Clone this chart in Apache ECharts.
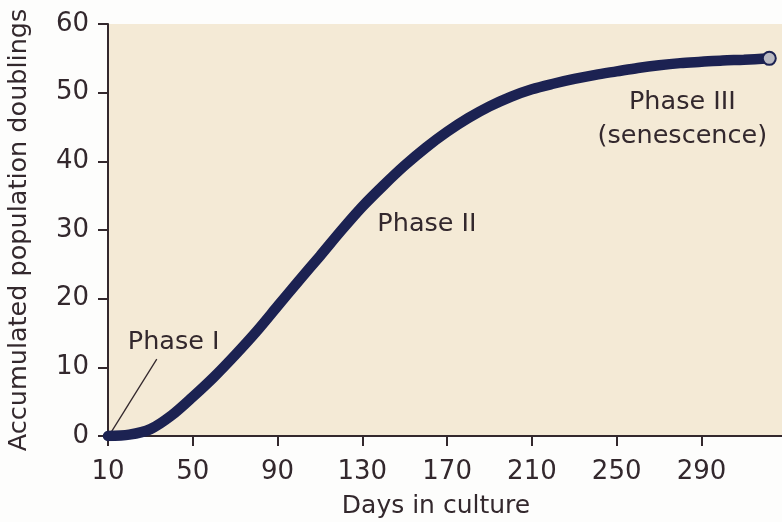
<!DOCTYPE html>
<html>
<head>
<meta charset="utf-8">
<script src="https://cdn.jsdelivr.net/npm/echarts@6/dist/echarts.min.js"></script>
<style>
  html, body { margin: 0; padding: 0; background: #fdfdfc; }
  #chart { width: 782px; height: 522px; }
</style>
</head>
<body>
<div id="chart"></div>
<script>
// growth curve
const days = [10, 20, 30, 40, 50, 60, 70, 80, 90, 100, 110, 120, 130, 140, 150, 160,
  170, 180, 190, 200, 210, 220, 230, 240, 250, 260, 270, 280, 290, 300, 310, 322]
const doublings = [0, 0.2, 1.0, 3.0, 5.7, 8.6, 11.8, 15.2, 18.9, 22.6, 26.2, 29.9, 33.4, 36.5, 39.4, 42.0,
  44.3, 46.3, 48.0, 49.4, 50.5, 51.3, 52.0, 52.6, 53.1, 53.6, 54.0, 54.3, 54.5, 54.7, 54.8, 55.0]
const xTicks = [10, 50, 90, 130, 170, 210, 250, 290]
const yTicks = [0, 10, 20, 30, 40, 50, 60]

// phase labels: [day, value, text]
const phaseLabels = [
  [41, 13.6, 'Phase I'],
  [160.5, 30.8, 'Phase II'],
  [281, 46.1, 'Phase III\n(senescence)']
]
const leader = [[11, 0.3], [33, 11.2]]

const ink = '#33282d'
const curveColor = '#1c2252'
const font = 'DejaVu Sans'

const chart = echarts.init(document.getElementById('chart'))

const curveData = days.map((d, i) => {
  if (i === days.length - 1) {
    return {
      value: [d, doublings[i]],
      symbol: 'circle',
      symbolSize: 13,
      itemStyle: { color: '#b9b9c2', borderColor: curveColor, borderWidth: 2 }
    }
  }
  return { value: [d, doublings[i]], symbol: 'none' }
})

chart.setOption({
  animation: false,
  textStyle: { fontFamily: font },
  grid: {
    left: 108,
    right: 0,
    top: 24,
    bottom: 86,
    outerBoundsMode: 'none',
    containLabel: false,
    show: true,
    backgroundColor: '#f4ead6',
    borderWidth: 0
  },
  xAxis: {
    type: 'value',
    min: 10,
    max: 328,
    name: 'Days in culture',
    nameLocation: 'middle',
    nameGap: 58,
    nameTextStyle: { color: ink, fontSize: 25, fontFamily: font, padding: [0, 18, 0, 0] },
    axisLine: { show: true, lineStyle: { color: ink, width: 2 } },
    axisTick: { show: true, length: 10, lineStyle: { color: ink, width: 2 }, customValues: xTicks },
    axisLabel: { color: ink, fontSize: 26, margin: 23, customValues: xTicks },
    splitLine: { show: false }
  },
  yAxis: {
    type: 'value',
    min: 0,
    max: 60,
    interval: 10,
    name: 'Accumulated population doublings',
    nameLocation: 'middle',
    nameGap: 76,
    nameTextStyle: { color: ink, fontSize: 25.5, fontFamily: font },
    axisLine: { show: true, lineStyle: { color: ink, width: 2 } },
    axisTick: { show: true, length: 10, lineStyle: { color: ink, width: 2 }, customValues: yTicks },
    axisLabel: { color: ink, fontSize: 26, margin: 19, customValues: yTicks },
    splitLine: { show: false }
  },
  series: [
    {
      type: 'line',
      data: leader,
      symbol: 'none',
      lineStyle: { color: ink, width: 1.3 },
      z: 1
    },
    {
      type: 'line',
      data: curveData,
      smooth: 0.3,
      symbol: 'none',
      showSymbol: true,
      showAllSymbol: true,
      lineStyle: { color: curveColor, width: 10.5, cap: 'round' },
      z: 3
    },
    {
      type: 'scatter',
      symbolSize: 0,
      itemStyle: { opacity: 1 },
      data: phaseLabels.map(p => ({ value: [p[0], p[1]], name: p[2] })),
      label: {
        show: true,
        position: 'inside',
        formatter: p => p.name,
        color: ink,
        opacity: 1,
        fontSize: 25.5,
        lineHeight: 34,
        align: 'center',
        fontFamily: font
      },
      z: 4
    }
  ]
})
</script>
</body>
</html>
